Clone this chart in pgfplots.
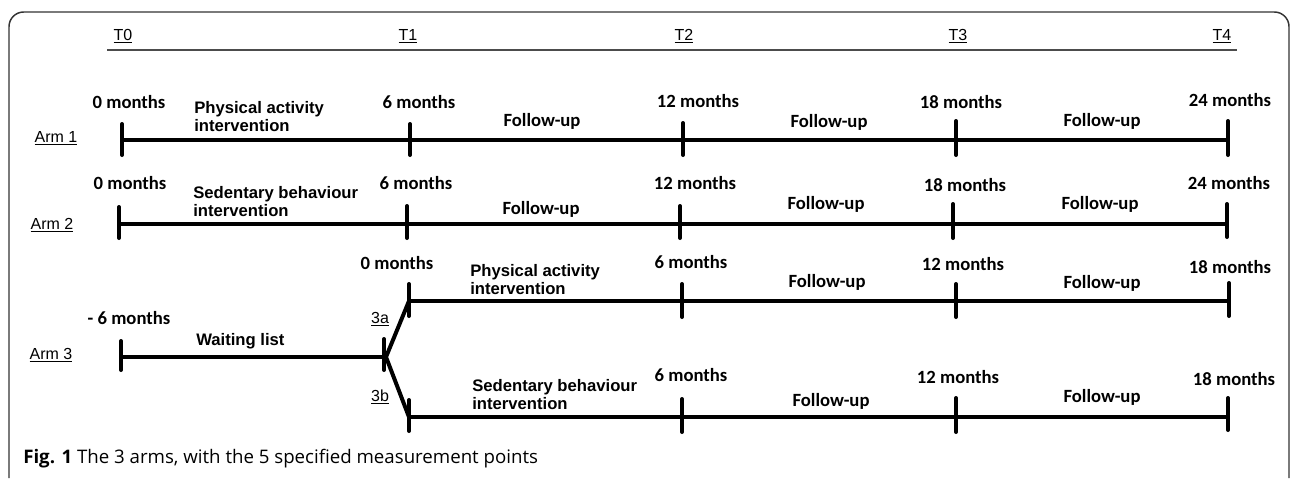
\documentclass[border=0pt]{standalone}
\usepackage{fontspec}
\setmainfont{Liberation Sans}
\newfontfamily\calfont{Carlito}
\newfontfamily\capfont{Open Sans}
\usepackage{pgfplots}
\pgfplotsset{compat=1.18}
\begin{document}
\begin{tikzpicture}
\begin{axis}[width=969pt,height=358.5pt,scale only axis,
  xmin=0,xmax=1292,ymin=0,ymax=478,y dir=reverse,hide axis,clip=false,
  unbounded coords=jump]
\path (axis cs:0,0) rectangle (axis cs:1292,478);
% frame
\draw[line width=1.1pt, rounded corners=11pt, black!80] (axis cs:9,478) -- (axis cs:9,12) -- (axis cs:1289,12) -- (axis cs:1289,478);
% T line
\addplot[black!70, line width=0.9pt] coordinates {(107,50) (1237,50)};
% main lines
\addplot[black, line width=3.2pt] coordinates {(122,140) (1228,140)};
\addplot[black, line width=3.2pt] coordinates {(119,224) (1227,224)};
\addplot[black, line width=3.2pt] coordinates {(121,357) (386,357)};
\addplot[black, line width=3pt, line join=round] coordinates {(409,301) (386,357) (409,417)};
\addplot[black, line width=3.2pt] coordinates {(409,301) (1229,301)};
\addplot[black, line width=3.2pt] coordinates {(409,417) (1228,417)};
% ticks
\addplot[black, line width=3pt, line cap=round] coordinates {
 (122,124) (122,155) (122,nan) (410,124) (410,155) (410,nan) (683,123) (683,155) (683,nan)
 (956,121) (956,155) (956,nan) (1228,121) (1228,155)};
\addplot[black, line width=3pt, line cap=round] coordinates {
 (119,207) (119,238) (119,nan) (407,206) (407,238) (407,nan) (680,206) (680,238) (680,nan)
 (953,204) (953,238) (953,nan) (1227,204) (1227,237)};
\addplot[black, line width=3pt, line cap=round] coordinates {
 (121,341) (121,370) (121,nan) (384,339) (384,370) (384,nan)
 (409,284) (409,316) (409,nan) (682,284) (682,317) (682,nan) (956,284) (956,317) (956,nan) (1229,283) (1229,316) (1229,nan)
 (409,400) (409,431) (409,nan) (682,399) (682,432) (682,nan) (956,398) (956,432) (956,nan) (1228,398) (1228,430)};
% T and arm labels
\begin{scope}[every node/.style={font=\fontsize{12}{14}\selectfont, inner sep=0pt, anchor=base}]
\node at (axis cs:123,40) {\underline{T0}};
\node at (axis cs:408,40) {\underline{T1}};
\node at (axis cs:684,40) {\underline{T2}};
\node at (axis cs:958,40) {\underline{T3}};
\node at (axis cs:1222,40) {\underline{T4}};
\node at (axis cs:56,142) {\underline{Arm 1}};
\node at (axis cs:52,229) {\underline{Arm 2}};
\node at (axis cs:51,359) {\underline{Arm 3}};
\node at (axis cs:380,323) {\underline{3a}};
\node at (axis cs:380,401) {\underline{3b}};
\end{scope}
% month labels
\begin{scope}[every node/.style={font=\calfont\bfseries\fontsize{14}{16}\selectfont, inner sep=0pt, anchor=base}]
\node at (axis cs:129,108) {0 months};
\node at (axis cs:419,108) {6 months};
\node at (axis cs:698,107) {12 months};
\node at (axis cs:961,108) {18 months};
\node at (axis cs:1230,106) {24 months};
\node at (axis cs:130,189) {0 months};
\node at (axis cs:416,189) {6 months};
\node at (axis cs:695,189) {12 months};
\node at (axis cs:965,191) {18 months};
\node at (axis cs:1229,189) {24 months};
\node at (axis cs:129,324) {- 6 months};
\node at (axis cs:397,269) {0 months};
\node at (axis cs:691,268) {6 months};
\node at (axis cs:963,270) {12 months};
\node at (axis cs:1230,273) {18 months};
\node at (axis cs:691,381) {6 months};
\node at (axis cs:958,383) {12 months};
\node at (axis cs:1234,385) {18 months};
\node at (axis cs:542,126) {Follow-up};
\node at (axis cs:829,127) {Follow-up};
\node at (axis cs:1102,126) {Follow-up};
\node at (axis cs:541,214) {Follow-up};
\node at (axis cs:826,209) {Follow-up};
\node at (axis cs:1100,209) {Follow-up};
\node at (axis cs:827,287) {Follow-up};
\node at (axis cs:1102,288) {Follow-up};
\node at (axis cs:831,406) {Follow-up};
\node at (axis cs:1102,402) {Follow-up};
\end{scope}
% intervention labels (base = baseline of last line)
\begin{scope}[every node/.style={font=\bfseries\fontsize{12.5}{13.5}\selectfont, inner sep=0pt, align=left, anchor=base west}]
\node at (axis cs:194,131) {Physical activity\\intervention};
\node at (axis cs:193,216) {Sedentary behaviour\\intervention};
\node at (axis cs:470,294) {Physical activity\\intervention};
\node at (axis cs:472,409) {Sedentary behaviour\\intervention};
\node at (axis cs:196,345) {Waiting list};
\end{scope}
% caption
\node[anchor=base west, inner sep=0pt, font=\capfont\fontsize{14}{16}\selectfont] at (axis cs:23,463) {\textbf{Fig. 1} The 3 arms, with the 5 specified measurement points};
\end{axis}
\end{tikzpicture}
\end{document}
